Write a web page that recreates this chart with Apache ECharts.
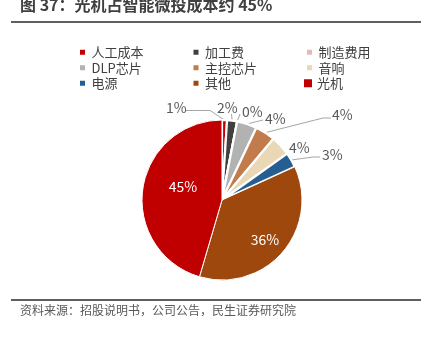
<!DOCTYPE html>
<html><head><meta charset="utf-8">
<script src="https://cdn.jsdelivr.net/npm/echarts@6/dist/echarts.min.js"></script>
<style>html,body{margin:0;padding:0;background:#fff}#c{width:424px;height:339px}</style>
</head><body><div id="c"></div>
<script>
const categories = ['人工成本','加工费','制造费用','DLP芯片','主控芯片','音响','电源','其他','光机'];
const shares = [1, 2, 0, 4, 4, 4, 3, 36, 45];
const colors = ['#C00000','#404040','#E6B9B8','#B2B2B2','#C27B4A','#E9D7B6','#255E91','#9E480E','#C00000'];
const titleText = '图 37：光机占智能微投成本约 45%';
const sourceText = '资料来源：招股说明书，公司公告，民生证券研究院';

// label placement (text anchor and guide-line bends), mimicking the reference
const labelSpots = [
  {x:166, y:108, align:'left', bend:[[210,110.5],[186,110.5]]},
  {x:217, y:108, align:'left', bend:[[231.5,114],[231.5,114]]},
  {x:242, y:112, align:'left', bend:[[240,114],[240,114]]},
  {x:265, y:119, align:'left', bend:[[263,120],[263,120]]},
  {x:332, y:115, align:'left', bend:[[323,118],[331,118]]},
  {x:289, y:148, align:'left', bend:null},
  {x:322, y:155, align:'left', bend:[[313,157],[320,157]]},
  {x:265, y:240, align:'center', bend:null},
  {x:183, y:187, align:'center', bend:null}
];

const FONT = '"Noto Sans CJK SC", "Noto Sans", sans-serif';
const chart = echarts.init(document.getElementById('c'), null, {renderer:'canvas'});

const pieData = categories.map((name, i) => {
  const big = shares[i] >= 20;
  return {
    name: name,
    value: shares[i],
    itemStyle: {color: colors[i], borderColor:'#fff', borderWidth: big ? 1 : 2.2},
    label: big ? {position:'inside', color:'#fff'} : {position:'outside', color:'#595959'},
    labelLine: {show: !!labelSpots[i].bend}
  };
});

const legendData = categories.map((name, i) => ({
  name: name,
  icon: 'rect',
  itemStyle: i === categories.length - 1
    ? {color: colors[i], borderWidth: 0}
    : {color: colors[i], borderColor:'#fff', borderWidth: 3}
}));

chart.setOption({
  animation: false,
  backgroundColor: '#fff',
  color: colors,
  legend: {
    left: 72, top: 40, width: 345,
    orient: 'horizontal',
    itemWidth: 8, itemHeight: 8, itemGap: 1,
    selectedMode: false,
    data: legendData,
    textStyle: {fontFamily: FONT, fontSize: 13, color: '#404040', width: 98, lineHeight: 14.5, overflow: 'none'}
  },
  graphic: [
    {type:'text', left: 20, top: -3, style:{text: titleText, font: 'bold 16px ' + FONT, fill:'#404040'}},
    {type:'line', shape:{x1:11, y1:22, x2:421, y2:22}, style:{stroke:'#5f5f5f', lineWidth:2}},
    {type:'line', shape:{x1:11, y1:300, x2:421, y2:300}, style:{stroke:'#5f5f5f', lineWidth:2}},
    {type:'text', left: 20, top: 304, style:{text: sourceText, font: '12px ' + FONT, fill:'#595959'}}
  ],
  series: [{
    type: 'pie',
    center: [222, 200],
    radius: 80,
    startAngle: 90,
    clockwise: true,
    avoidLabelOverlap: false,
    data: pieData,
    label: {
      show: true,
      fontFamily: FONT,
      fontSize: 14,
      formatter: p => Math.round(p.value) + '%'
    },
    labelLine: {show: true, length: 8, length2: 8, lineStyle: {color:'#A6A6A6', width: 1}},
    labelLayout: function (params) {
      const s = labelSpots[params.dataIndex];
      const out = {x: s.x, y: s.y, align: s.align, verticalAlign: 'middle'};
      if (s.bend && params.labelLinePoints) {
        const p0 = params.labelLinePoints[0];
        out.labelLinePoints = [[p0[0], p0[1]], s.bend[0], s.bend[1]];
      }
      return out;
    },
    emphasis: {disabled: true}
  }]
});
</script></body></html>
